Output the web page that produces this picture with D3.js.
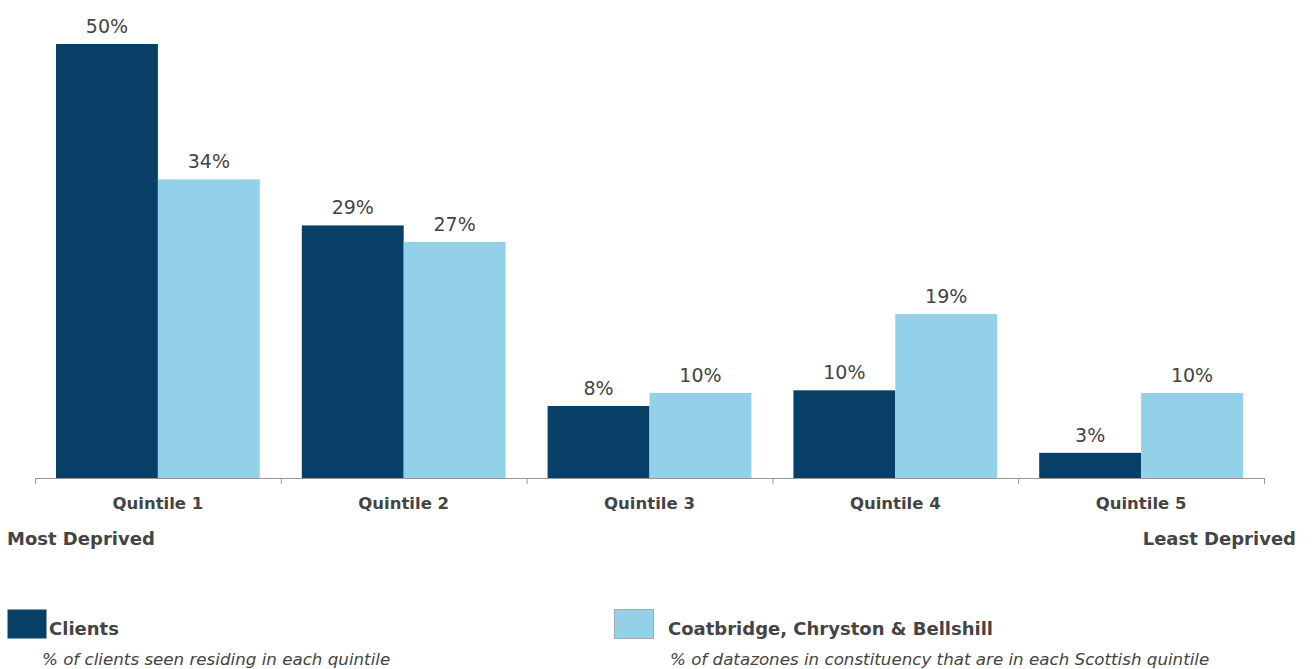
<!DOCTYPE html>
<html lang="en">
<head>
  <meta charset="UTF-8">
  <title>Clients by SIMD quintile</title>
  <script src="https://d3js.org/d3.v7.min.js"></script>
  <style>
    body { margin: 0; font-family: Tahoma, 'DejaVu Sans', sans-serif; background: #fff; }
    text { fill: #444; }
    .val { font-size: 19px; text-anchor: middle; }
    .cat { font-size: 16.5px; font-weight: bold; text-anchor: middle; }
    .end { font-size: 18px; font-weight: bold; }
    .leg { font-size: 18px; font-weight: bold; }
    .sub { font-size: 16.7px; font-style: italic; }
  </style>
</head>
<body>
  <svg id="chart" width="1312" height="669"></svg>
  <script>
    // Data
    const quintiles = ["Quintile 1", "Quintile 2", "Quintile 3", "Quintile 4", "Quintile 5"];
    const clients = [50.0, 29.1, 8.3, 10.1, 2.9];
    const constituency = [34.4, 27.2, 9.8, 18.9, 9.8];
    const seriesNames = ["Clients", "Coatbridge, Chryston & Bellshill"];
    const seriesNotes = ["% of clients seen residing in each quintile",
                         "% of datazones in constituency that are in each Scottish quintile"];
    const colors = ["#083f66", "#92d1e8"];

    const svg = d3.select("#chart");
    const baseY = 478;

    const x0 = d3.scaleBand().domain(quintiles).range([35, 1264]).padding(0);
    const x1 = d3.scaleBand().domain([0, 1])
      .range([21, x0.bandwidth() - 21]).padding(0);
    const y = d3.scaleLinear().domain([0, 50]).range([baseY, 44]);

    const rows = quintiles.map((q, i) => ({ q, vals: [clients[i], constituency[i]] }));

    const groups = svg.selectAll(".grp").data(rows).enter()
      .append("g").attr("transform", d => `translate(${x0(d.q)},0)`);

    groups.selectAll("rect")
      .data(d => d.vals.map((v, s) => ({ v, s })))
      .enter().append("rect")
      .attr("x", d => x1(d.s))
      .attr("y", d => y(d.v))
      .attr("width", x1.bandwidth())
      .attr("height", d => baseY - y(d.v))
      .attr("fill", d => colors[d.s]);

    groups.selectAll(".val")
      .data(d => d.vals.map((v, s) => ({ v, s })))
      .enter().append("text")
      .attr("class", "val")
      .attr("x", d => x1(d.s) + x1.bandwidth() / 2)
      .attr("y", d => y(d.v) - 11)
      .text(d => Math.round(d.v) + "%");

    // x axis
    const axis = svg.append("g").attr("transform", `translate(0,${baseY})`);
    axis.append("line").attr("x1", 35).attr("x2", 1264).attr("y1", 0.5).attr("y2", 0.5)
      .attr("stroke", "#999");
    const edges = quintiles.map(q => x0(q)).concat([x0.range()[1]]);
    axis.selectAll(".tick").data(edges).enter().append("line")
      .attr("x1", d => d + 0.5).attr("x2", d => d + 0.5)
      .attr("y1", 0).attr("y2", 6).attr("stroke", "#999");

    svg.selectAll(".cat").data(quintiles).enter().append("text")
      .attr("class", "cat")
      .attr("x", d => x0(d) + x0.bandwidth() / 2)
      .attr("y", 509)
      .text(d => d);

    svg.append("text").attr("class", "end").attr("x", 7).attr("y", 545).text("Most Deprived");
    svg.append("text").attr("class", "end").attr("x", 1296).attr("y", 545)
      .attr("text-anchor", "end").text("Least Deprived");

    // legend
    const legX = [7, 614];
    seriesNames.forEach((name, i) => {
      const g = svg.append("g");
      g.append("rect").attr("x", legX[i] + 0.5).attr("y", 609.5).attr("width", 39).attr("height", 29)
        .attr("fill", colors[i]).attr("stroke", i === 1 ? "#aaa" : "none");
      g.append("text").attr("class", "leg")
        .attr("x", i === 0 ? 49 : 668).attr("y", 635).text(name);
      g.append("text").attr("class", "sub")
        .attr("x", i === 0 ? 42 : 670).attr("y", 665).text(seriesNotes[i]);
    });
  </script>
</body>
</html>
